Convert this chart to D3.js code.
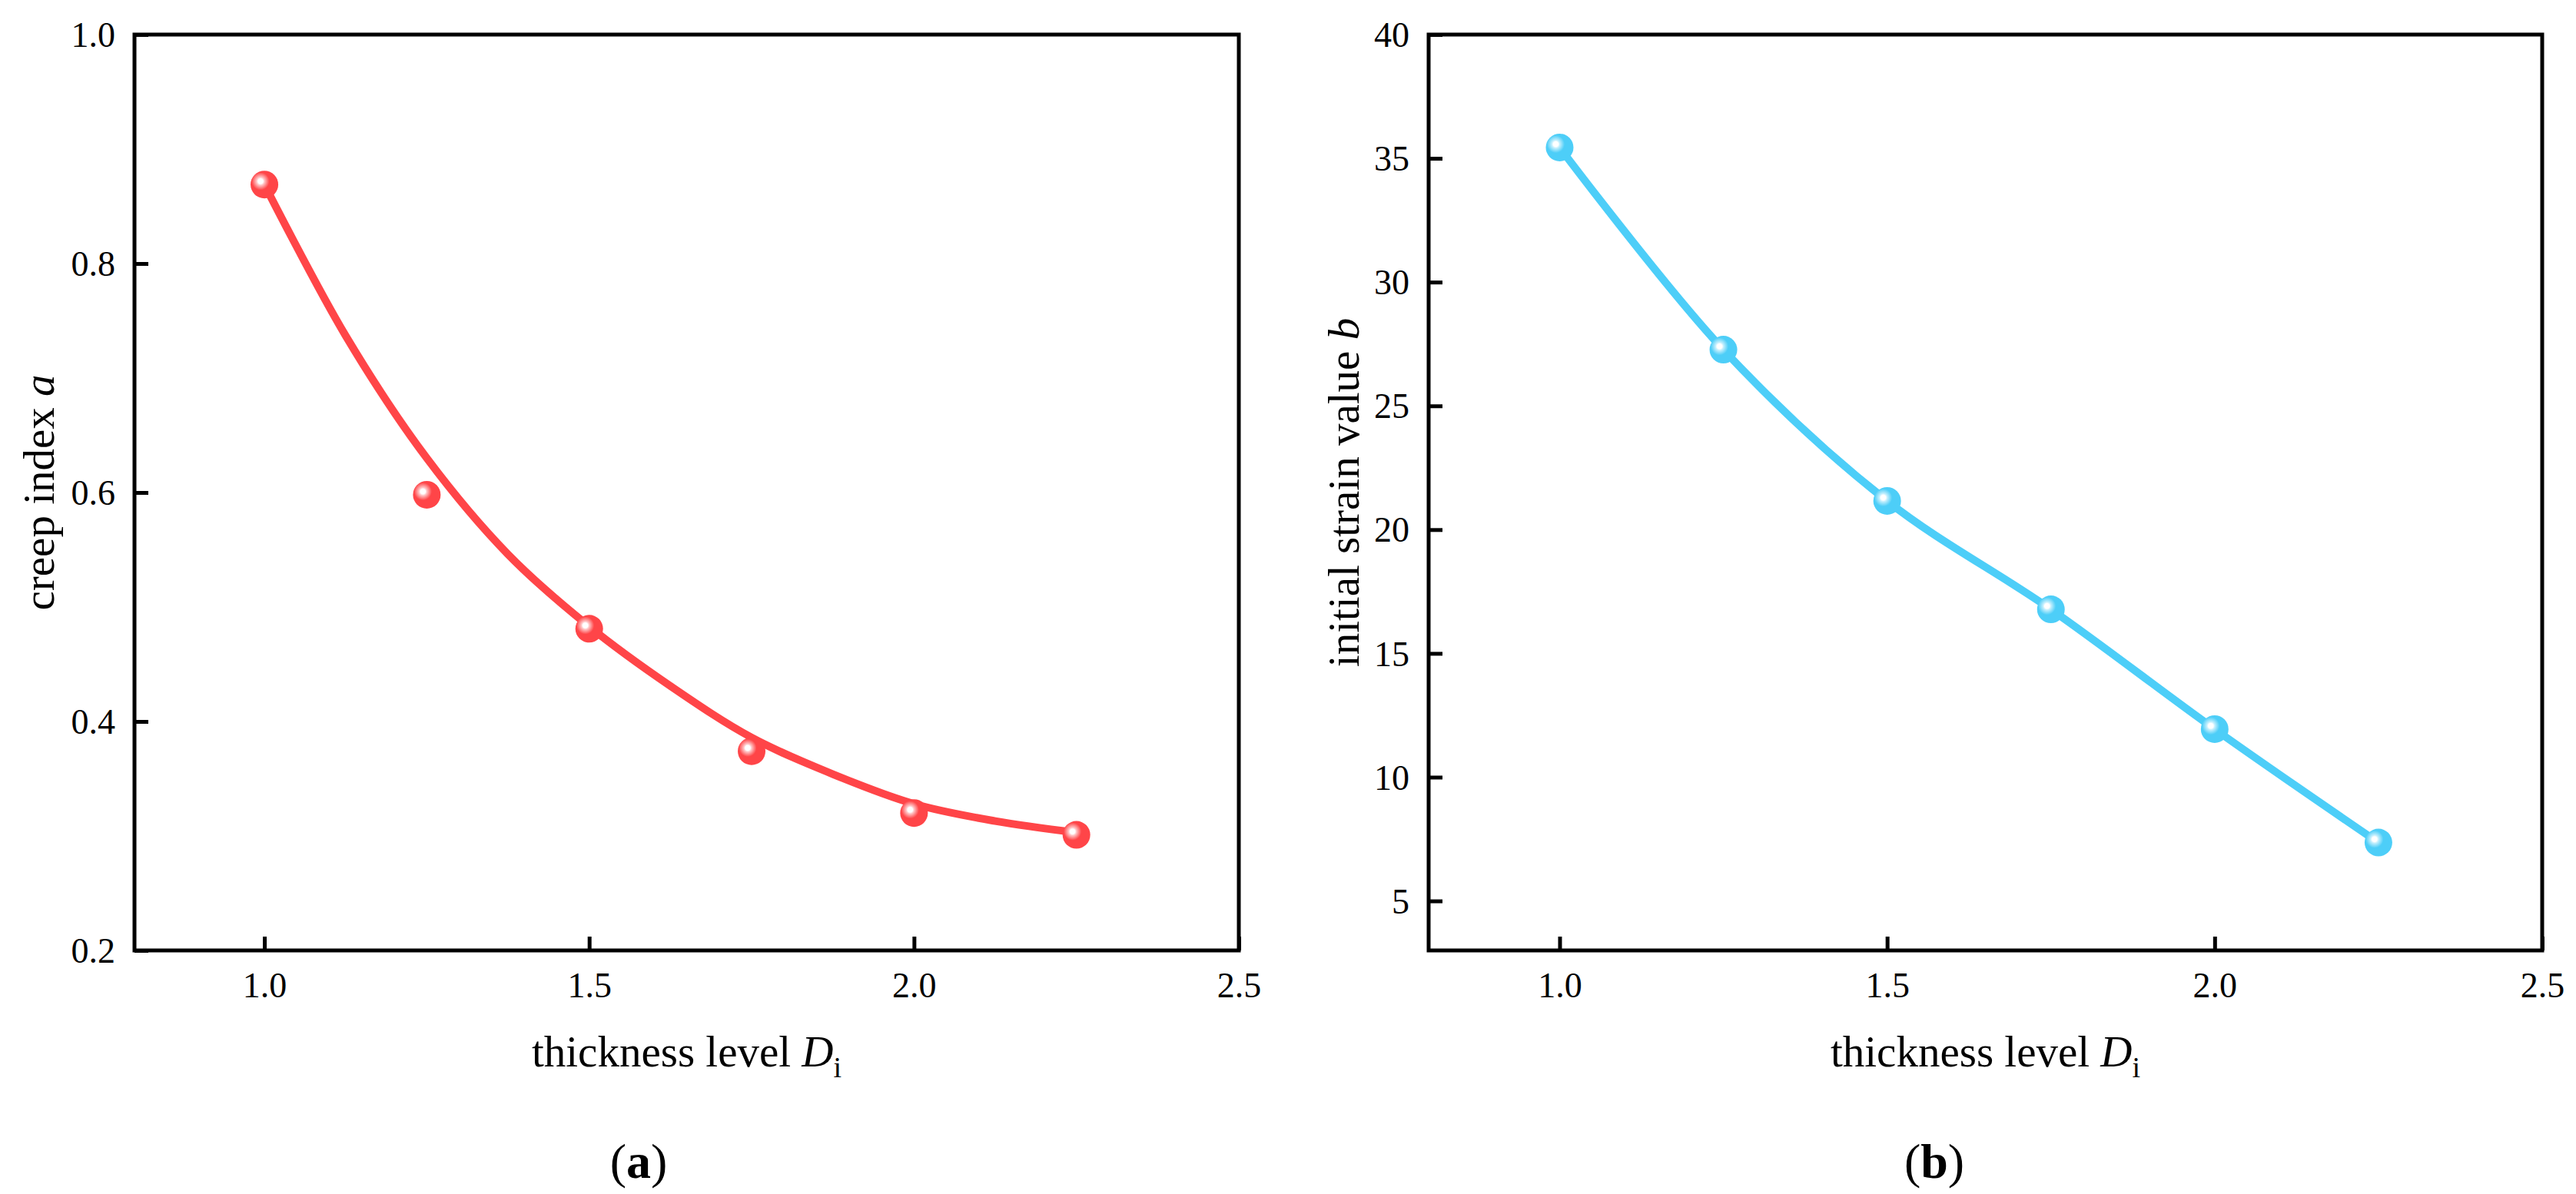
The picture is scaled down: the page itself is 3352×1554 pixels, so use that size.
<!DOCTYPE html>
<html>
<head>
<meta charset="utf-8">
<script src="https://cdn.jsdelivr.net/npm/d3@7"></script>
<style>
  body { margin: 0; background: #fff; }
  svg text { font-family: "Liberation Serif", "Times New Roman", serif; fill: #000; }
</style>
</head>
<body>
<script>
// thickness levels (x) shared by both panels
const thickness = [1.0, 1.25, 1.5, 1.75, 2.0, 2.25];
// panel (a): creep index a
const creepIndex = [0.869, 0.598, 0.481, 0.374, 0.320, 0.301];
// fitted curve for panel (a)
const fitX = [1.0, 1.125, 1.25, 1.375, 1.5, 1.625, 1.75, 1.875, 2.0, 2.125, 2.25];
const fitA = [0.869, 0.737, 0.630, 0.546, 0.483, 0.431, 0.386, 0.354, 0.328, 0.313, 0.303];
// panel (b): initial strain value b
const strainB = [35.44, 27.27, 21.16, 16.78, 11.94, 7.36];

const xTicks = [1.0, 1.5, 2.0, 2.5];
const yTicksA = [0.2, 0.4, 0.6, 0.8, 1.0];
const yTicksB = [5, 10, 15, 20, 25, 30, 35, 40];

const serif = '"Liberation Serif", "Times New Roman", serif';
const width = 3352;
const height = 1554;

const svg = d3.select("body")
    .append("svg")
    .attr("width", width)
    .attr("height", height)
    .attr("font-family", serif);

const defs = svg.append("defs");

function ballGradient(id, base, mid) {
    const g = defs.append("radialGradient")
        .attr("id", id)
        .attr("cx", 0.36).attr("cy", 0.38)
        .attr("fx", 0.36).attr("fy", 0.38)
        .attr("r", 0.32);
    g.append("stop").attr("offset", 0).attr("stop-color", "#ffffff");
    g.append("stop").attr("offset", 0.28).attr("stop-color", "#ffffff");
    g.append("stop").attr("offset", 0.45).attr("stop-color", mid);
    g.append("stop").attr("offset", 1).attr("stop-color", base);
}
ballGradient("ballRed", "#ff4548", "#ffc4c5");
ballGradient("ballBlue", "#4dcef8", "#c4effd");

function panel(opt) {
    const x = d3.scaleLinear().domain([0.8, 2.5]).range([opt.left, opt.right]);
    const y = d3.scaleLinear().domain(opt.yDomain).range([opt.bottom, opt.top]);
    const g = svg.append("g");

    const xAxis = g.append("g")
        .attr("transform", `translate(0,${opt.bottom})`)
        .call(d3.axisBottom(x).tickValues(xTicks).tickFormat(d3.format(".1f"))
            .tickSize(-18).tickPadding(28));
    const yAxis = g.append("g")
        .attr("transform", `translate(${opt.left},0)`)
        .call(d3.axisLeft(y).tickValues(opt.yTicks).tickFormat(opt.yFormat)
            .tickSize(-18).tickPadding(25));

    [xAxis, yAxis].forEach(a => {
        a.attr("font-family", serif).attr("font-size", 46);
        a.select(".domain").remove();
        a.selectAll(".tick line").attr("stroke", "#000").attr("stroke-width", 5);
        a.selectAll(".tick text")
            .style("font-family", serif)
            .style("font-size", "46px");
    });
    yAxis.selectAll(".tick text").attr("dy", "0.34em");

    g.append("rect")
        .attr("x", opt.left).attr("y", opt.top)
        .attr("width", opt.right - opt.left)
        .attr("height", opt.bottom - opt.top)
        .attr("fill", "none")
        .attr("stroke", "#000")
        .attr("stroke-width", 5);

    const line = d3.line()
        .x(d => x(d[0]))
        .y(d => y(d[1]))
        .curve(d3.curveCatmullRom.alpha(0.5));

    g.append("path")
        .datum(d3.zip(opt.lineX, opt.lineY))
        .attr("d", line)
        .attr("fill", "none")
        .attr("stroke", opt.color)
        .attr("stroke-width", 10)
        .attr("stroke-linecap", "round");

    g.selectAll("circle.pt")
        .data(d3.zip(thickness, opt.values))
        .enter()
        .append("circle")
        .attr("class", "pt")
        .attr("cx", d => x(d[0]))
        .attr("cy", d => y(d[1]))
        .attr("r", 18)
        .attr("fill", `url(#${opt.grad})`);

    // x title
    const xt = g.append("text")
        .attr("x", (opt.left + opt.right) / 2)
        .attr("y", 1388)
        .attr("text-anchor", "middle")
        .style("font-size", "57px");
    xt.append("tspan").text("thickness level ");
    xt.append("tspan").style("font-style", "italic").text("D");
    xt.append("tspan").attr("dy", 14).style("font-size", "38px").text("i");

    // y title
    const yt = g.append("text")
        .attr("transform", `translate(${opt.left - opt.yTitleOffset},${(opt.top + opt.bottom) / 2}) rotate(-90)`)
        .attr("text-anchor", "middle")
        .style("font-size", "57px");
    yt.append("tspan").text(opt.yTitle + " ");
    yt.append("tspan").style("font-style", "italic").text(opt.yVar);

    // panel letter
    const pl = g.append("text")
        .attr("x", opt.letterX)
        .attr("y", 1533)
        .attr("text-anchor", "middle")
        .style("font-size", "64px");
    pl.append("tspan").text("(");
    pl.append("tspan").style("font-weight", "bold").text(opt.letter);
    pl.append("tspan").text(")");
}

panel({
    left: 175, right: 1612, top: 45, bottom: 1237,
    yDomain: [0.2, 1.0], yTicks: yTicksA, yFormat: d3.format(".1f"),
    lineX: fitX, lineY: fitA, values: creepIndex,
    color: "#ff4548", grad: "ballRed",
    yTitle: "creep index", yVar: "a", yTitleOffset: 105,
    letter: "a", letterX: 831
});

panel({
    left: 1859, right: 3308, top: 45, bottom: 1237,
    yDomain: [3, 40], yTicks: yTicksB, yFormat: d3.format("d"),
    lineX: thickness, lineY: strainB, values: strainB,
    color: "#4dcef8", grad: "ballBlue",
    yTitle: "initial strain value", yVar: "b", yTitleOffset: 91,
    letter: "b", letterX: 2517
});
</script>
</body>
</html>
